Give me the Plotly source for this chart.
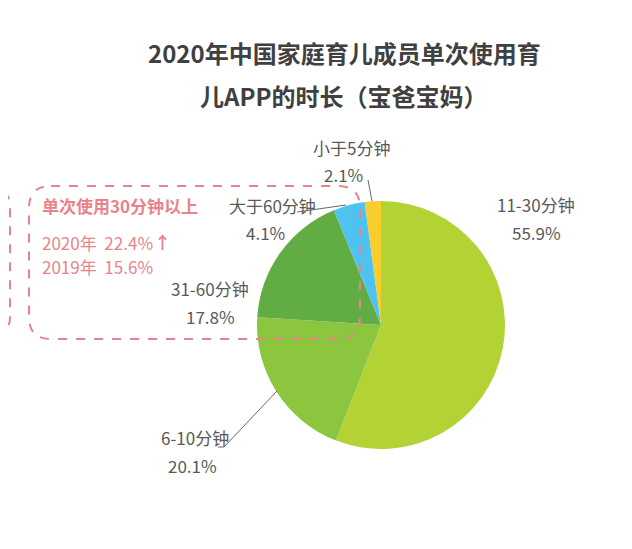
import plotly.graph_objects as go

# ---- data ----
categories = ["11-30分钟", "6-10分钟", "31-60分钟", "大于60分钟", "小于5分钟"]
shares = [55.9, 20.1, 17.8, 4.1, 2.1]
slice_colors = ["#b3d334", "#8cc63f", "#62ad43", "#4fc3f0", "#f9cd2c"]
title_lines = ["2020年中国家庭育儿成员单次使用育", "儿APP的时长（宝爸宝妈）"]
box_title = "单次使用30分钟以上"
box_years = ["2020年", "2019年"]
box_values = [22.4, 15.6]

W, H = 632, 549
OFF = 8  # page body margin
cx, cy, r = 381, 325, 124

fig = go.Figure()
fig.add_trace(go.Pie(
    labels=categories, values=shares, sort=False, direction="clockwise",
    rotation=0, marker=dict(colors=slice_colors, line=dict(width=0)),
    textinfo="none", hoverinfo="label+percent", showlegend=False,
    domain=dict(x=[(cx - OFF - r) / W, (cx - OFF + r) / W],
                y=[1 - (cy - OFF + r) / H, 1 - (cy - OFF - r) / H]),
))

# invisible pixel-space axes (coordinates = screenshot pixels)
fig.update_layout(
    xaxis=dict(range=[OFF, W + OFF], visible=False, fixedrange=True, domain=[0, 1]),
    yaxis=dict(range=[H + OFF, OFF], visible=False, fixedrange=True, domain=[0, 1]),
    width=W, height=H, margin=dict(l=0, r=0, t=0, b=0),
    paper_bgcolor="white", plot_bgcolor="rgba(0,0,0,0)",
    font=dict(family="Noto Sans CJK SC", color="#595959"),
)

ann = []
ann.append(dict(x=344, y=52, text="<b>" + title_lines[0] + "</b>", font=dict(size=24, color="#404040")))
ann.append(dict(x=343, y=95, text="<b>" + title_lines[1] + "</b>", font=dict(size=24, color="#404040")))

label_pos = {
    "11-30分钟": (536, 204, 536, 232),
    "6-10分钟": (195, 437, 192, 465),
    "31-60分钟": (210, 288, 210, 316),
    "大于60分钟": (272, 205, 265, 232),
    "小于5分钟": (351, 147, 343, 174),
}
for name, val in zip(categories, shares):
    x1, y1, x2, y2 = label_pos[name]
    ann.append(dict(x=x1, y=y1, text=name, font=dict(size=17, color="#595959")))
    ann.append(dict(x=x2, y=y2, text=f"{val}%", font=dict(size=17, color="#595959")))

pink = "#e8838c"
ann.append(dict(x=40, y=205, text="<b>" + box_title + "</b>", xanchor="left", font=dict(size=17, color=pink)))
ann.append(dict(x=40, y=242, text=f"{box_years[0]}  {box_values[0]}%", xanchor="left", font=dict(size=17, color=pink)))
ann.append(dict(x=40, y=266, text=f"{box_years[1]}  {box_values[1]}%", xanchor="left", font=dict(size=17, color=pink)))
ann.append(dict(x=162, y=241, text="<b>↑</b>", font=dict(size=17, color=pink)))

for a in ann:
    a.setdefault("xref", "x")
    a.setdefault("yref", "y")
    a.setdefault("showarrow", False)
    a.setdefault("xanchor", "center")
    a["yanchor"] = "middle"
fig.update_layout(annotations=ann)

shapes = []
line_gray = dict(color="#666666", width=1)
shapes.append(dict(type="path", path="M 368 180 L 372 201", line=line_gray))
shapes.append(dict(type="path", path="M 297 212 L 346 205", line=line_gray))
shapes.append(dict(type="path", path="M 218 447 L 224 447 L 277 391", line=line_gray))

dash = dict(color=pink, width=2, dash="dash")
def rrect(x0, y0, x1, y1, rad):
    return (f"M {x0+rad} {y0} L {x1-rad} {y0} Q {x1} {y0} {x1} {y0+rad} "
            f"L {x1} {y1-rad} Q {x1} {y1} {x1-rad} {y1} L {x0+rad} {y1} "
            f"Q {x0} {y1} {x0} {y1-rad} L {x0} {y0+rad} Q {x0} {y0} {x0+rad} {y0} Z")
shapes.append(dict(type="path", path=rrect(29, 186, 360, 339, 22), line=dash, layer="above"))
shapes.append(dict(type="path", path=rrect(-300, 190, 10, 333, 16), line=dash, layer="above"))
for s in shapes:
    s["xref"] = "x"
    s["yref"] = "y"
fig.update_layout(shapes=shapes)

fig.write_html("out.html")
